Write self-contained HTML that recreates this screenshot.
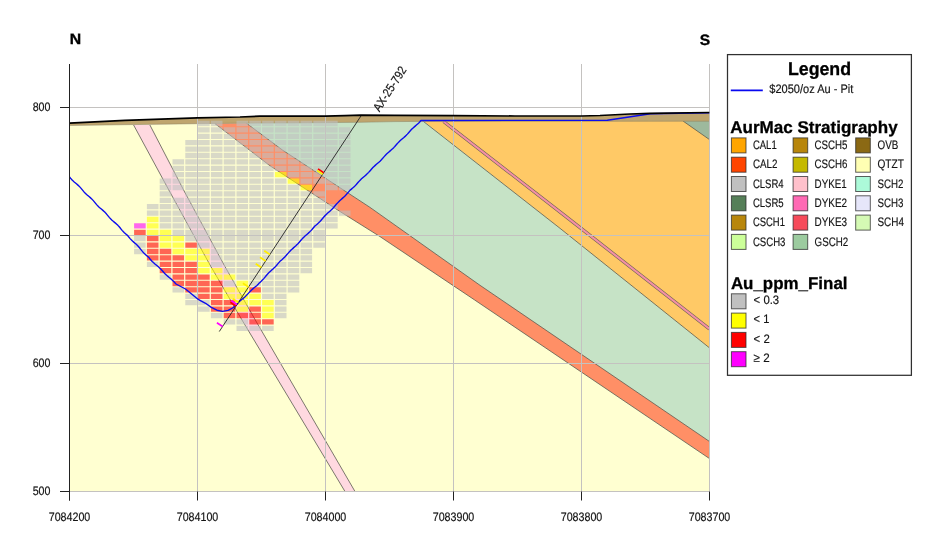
<!DOCTYPE html>
<html><head><meta charset="utf-8"><title>Section</title>
<style>
html,body{margin:0;padding:0;background:#fff;}
svg{display:block;font-family:"Liberation Sans",sans-serif;}
text{text-rendering:geometricPrecision;}
svg{will-change:transform;transform:translateZ(0);}
</style></head><body>
<svg width="950" height="533" viewBox="0 0 950 533">
<rect width="950" height="533" fill="#fff"/>
<defs><clipPath id="pa"><rect x="69.5" y="60" width="640" height="431.5"/></clipPath></defs>
<g clip-path="url(#pa)">
<polygon points="69.50,125.50 125.00,124.70 197.50,123.70 240.00,123.20 325.50,122.60 360.00,122.30 395.00,121.60 420.00,121.40 607.00,121.30 709.50,121.20 709.5,491.5 69.5,491.5" fill="#ffffd1"/>
<polygon points="246.40,123.20 282.40,150.00 370.00,207.40 480.00,285.30 709.50,441.50 709.5,347.9 560,228.3 423.4,121 247.2,121" fill="#c6e3c6"/>
<polygon points="246.40,123.20 282.40,150.00 370.00,207.40 480.00,285.30 709.50,441.50 709.50,458.60 474.70,300.00 380.00,236.60 337.60,210.00 270.00,165.80 214.90,123.60" fill="#ff8f66"/>
<polygon points="423.4,121 709.5,121 709.5,347.9 560,228.3" fill="#ffc966"/>
<polygon points="683,121 709.5,121 709.5,139.6" fill="#9db99d"/>
<polygon points="133.60,125.00 168.80,190.00 210.00,265.00 242.00,320.00 345.00,491.50 355.00,491.50 255.30,320.00 224.10,265.00 183.60,190.00 149.90,125.00" fill="#ffd9e0"/>
<polyline points="246.40,123.20 282.40,150.00 370.00,207.40 480.00,285.30 709.50,441.50" fill="none" stroke="#595950" stroke-width="0.8"/>
<polyline points="214.90,123.60 270.00,165.80 337.60,210.00 380.00,236.60 474.70,300.00 709.50,458.60" fill="none" stroke="#595950" stroke-width="0.8"/>
<polyline points="423.40,121.40 560.00,228.30 709.50,347.90" fill="none" stroke="#595950" stroke-width="0.8"/>
<polyline points="133.60,125.00 168.80,190.00 210.00,265.00 242.00,320.00 345.00,491.50" fill="none" stroke="#595950" stroke-width="0.8"/>
<polyline points="149.90,125.00 183.60,190.00 224.10,265.00 255.30,320.00 355.00,491.50" fill="none" stroke="#595950" stroke-width="0.8"/>
<polyline points="683.00,121.00 709.50,139.60" fill="none" stroke="#595950" stroke-width="0.8"/>
<polyline points="443.6,121.5 564.1,215.1 709.5,329" fill="none" stroke="#6e6458" stroke-width="3.3"/>
<polyline points="443.6,121.5 564.1,215.1 709.5,329" fill="none" stroke="#f590a4" stroke-width="2.1"/>
<polygon points="69.50,123.05 125.00,120.35 197.50,117.95 240.00,117.00 260.00,116.10 325.50,116.10 345.00,115.60 361.00,115.20 395.00,115.30 453.50,115.70 515.00,116.00 581.50,116.00 600.00,115.50 630.00,114.00 650.00,113.40 709.50,112.50 709.50,121.20 607.00,121.30 420.00,121.40 395.00,121.60 360.00,122.30 325.50,122.60 240.00,123.20 197.50,123.70 125.00,124.70 69.50,125.50" fill="#bfa56e"/>
<polyline points="69.50,125.50 125.00,124.70 197.50,123.70 240.00,123.20 325.50,122.60 360.00,122.30 395.00,121.60 420.00,121.40 607.00,121.30 709.50,121.20" fill="none" stroke="#8a8060" stroke-width="0.5"/>
</g>
<g stroke="#c4c2c0" stroke-width="1" fill="none">
<line x1="197.5" y1="64" x2="197.5" y2="491.5"/>
<line x1="325.5" y1="64" x2="325.5" y2="491.5"/>
<line x1="453.5" y1="64" x2="453.5" y2="491.5"/>
<line x1="581.5" y1="64" x2="581.5" y2="491.5"/>
<line x1="709.5" y1="64" x2="709.5" y2="491.5"/>
<line x1="69.5" y1="107.5" x2="709.5" y2="107.5"/>
<line x1="69.5" y1="235.5" x2="709.5" y2="235.5"/>
<line x1="69.5" y1="363.5" x2="709.5" y2="363.5"/>
<line x1="69.5" y1="491.5" x2="709.5" y2="491.5"/>
</g>
<g clip-path="url(#pa)">
<path d="M134.10 236.05h11.60v5.30h-11.60zM134.10 242.45h11.60v5.30h-11.60zM134.10 248.85h11.60v5.30h-11.60zM146.90 204.05h11.60v5.30h-11.60zM146.90 210.45h11.60v5.30h-11.60zM146.90 261.65h11.60v5.30h-11.60zM159.70 178.45h11.60v5.30h-11.60zM159.70 184.85h11.60v5.30h-11.60zM159.70 191.25h11.60v5.30h-11.60zM159.70 197.65h11.60v5.30h-11.60zM159.70 204.05h11.60v5.30h-11.60zM159.70 210.45h11.60v5.30h-11.60zM159.70 216.85h11.60v5.30h-11.60zM159.70 223.25h11.60v5.30h-11.60zM159.70 274.45h11.60v5.30h-11.60zM172.50 159.25h11.60v5.30h-11.60zM172.50 165.65h11.60v5.30h-11.60zM172.50 172.05h11.60v5.30h-11.60zM172.50 178.45h11.60v5.30h-11.60zM172.50 184.85h11.60v5.30h-11.60zM172.50 197.65h11.60v5.30h-11.60zM172.50 204.05h11.60v5.30h-11.60zM172.50 210.45h11.60v5.30h-11.60zM172.50 216.85h11.60v5.30h-11.60zM172.50 223.25h11.60v5.30h-11.60zM172.50 229.65h11.60v5.30h-11.60zM172.50 287.25h11.60v5.30h-11.60zM185.30 140.05h11.60v5.30h-11.60zM185.30 146.45h11.60v5.30h-11.60zM185.30 152.85h11.60v5.30h-11.60zM185.30 159.25h11.60v5.30h-11.60zM185.30 165.65h11.60v5.30h-11.60zM185.30 172.05h11.60v5.30h-11.60zM185.30 178.45h11.60v5.30h-11.60zM185.30 184.85h11.60v5.30h-11.60zM185.30 191.25h11.60v5.30h-11.60zM185.30 197.65h11.60v5.30h-11.60zM185.30 204.05h11.60v5.30h-11.60zM185.30 210.45h11.60v5.30h-11.60zM185.30 216.85h11.60v5.30h-11.60zM185.30 223.25h11.60v5.30h-11.60zM185.30 229.65h11.60v5.30h-11.60zM185.30 236.05h11.60v5.30h-11.60zM185.30 293.65h11.60v5.30h-11.60zM185.30 300.05h11.60v5.30h-11.60zM198.10 120.85h11.60v5.30h-11.60zM198.10 127.25h11.60v5.30h-11.60zM198.10 133.65h11.60v5.30h-11.60zM198.10 140.05h11.60v5.30h-11.60zM198.10 146.45h11.60v5.30h-11.60zM198.10 152.85h11.60v5.30h-11.60zM198.10 159.25h11.60v5.30h-11.60zM198.10 165.65h11.60v5.30h-11.60zM198.10 172.05h11.60v5.30h-11.60zM198.10 178.45h11.60v5.30h-11.60zM198.10 184.85h11.60v5.30h-11.60zM198.10 191.25h11.60v5.30h-11.60zM198.10 197.65h11.60v5.30h-11.60zM198.10 204.05h11.60v5.30h-11.60zM198.10 210.45h11.60v5.30h-11.60zM198.10 216.85h11.60v5.30h-11.60zM198.10 223.25h11.60v5.30h-11.60zM198.10 229.65h11.60v5.30h-11.60zM198.10 236.05h11.60v5.30h-11.60zM198.10 242.45h11.60v5.30h-11.60zM198.10 300.05h11.60v5.30h-11.60zM198.10 306.45h11.60v5.30h-11.60zM210.90 120.85h11.60v5.30h-11.60zM210.90 127.25h11.60v5.30h-11.60zM210.90 133.65h11.60v5.30h-11.60zM210.90 140.05h11.60v5.30h-11.60zM210.90 146.45h11.60v5.30h-11.60zM210.90 152.85h11.60v5.30h-11.60zM210.90 159.25h11.60v5.30h-11.60zM210.90 165.65h11.60v5.30h-11.60zM210.90 172.05h11.60v5.30h-11.60zM210.90 178.45h11.60v5.30h-11.60zM210.90 184.85h11.60v5.30h-11.60zM210.90 191.25h11.60v5.30h-11.60zM210.90 197.65h11.60v5.30h-11.60zM210.90 204.05h11.60v5.30h-11.60zM210.90 210.45h11.60v5.30h-11.60zM210.90 216.85h11.60v5.30h-11.60zM210.90 223.25h11.60v5.30h-11.60zM210.90 229.65h11.60v5.30h-11.60zM210.90 236.05h11.60v5.30h-11.60zM210.90 242.45h11.60v5.30h-11.60zM210.90 248.85h11.60v5.30h-11.60zM210.90 255.25h11.60v5.30h-11.60zM210.90 261.65h11.60v5.30h-11.60zM210.90 312.85h11.60v5.30h-11.60zM223.70 127.25h11.60v5.30h-11.60zM223.70 133.65h11.60v5.30h-11.60zM223.70 140.05h11.60v5.30h-11.60zM223.70 146.45h11.60v5.30h-11.60zM223.70 152.85h11.60v5.30h-11.60zM223.70 159.25h11.60v5.30h-11.60zM223.70 165.65h11.60v5.30h-11.60zM223.70 172.05h11.60v5.30h-11.60zM223.70 178.45h11.60v5.30h-11.60zM223.70 184.85h11.60v5.30h-11.60zM223.70 191.25h11.60v5.30h-11.60zM223.70 197.65h11.60v5.30h-11.60zM223.70 204.05h11.60v5.30h-11.60zM223.70 210.45h11.60v5.30h-11.60zM223.70 216.85h11.60v5.30h-11.60zM223.70 223.25h11.60v5.30h-11.60zM223.70 229.65h11.60v5.30h-11.60zM223.70 236.05h11.60v5.30h-11.60zM223.70 242.45h11.60v5.30h-11.60zM223.70 248.85h11.60v5.30h-11.60zM223.70 255.25h11.60v5.30h-11.60zM223.70 261.65h11.60v5.30h-11.60zM223.70 268.05h11.60v5.30h-11.60zM223.70 280.85h11.60v5.30h-11.60zM223.70 319.25h11.60v5.30h-11.60zM236.50 120.85h11.60v5.30h-11.60zM236.50 127.25h11.60v5.30h-11.60zM236.50 133.65h11.60v5.30h-11.60zM236.50 140.05h11.60v5.30h-11.60zM236.50 146.45h11.60v5.30h-11.60zM236.50 152.85h11.60v5.30h-11.60zM236.50 159.25h11.60v5.30h-11.60zM236.50 165.65h11.60v5.30h-11.60zM236.50 172.05h11.60v5.30h-11.60zM236.50 178.45h11.60v5.30h-11.60zM236.50 184.85h11.60v5.30h-11.60zM236.50 191.25h11.60v5.30h-11.60zM236.50 197.65h11.60v5.30h-11.60zM236.50 204.05h11.60v5.30h-11.60zM236.50 210.45h11.60v5.30h-11.60zM236.50 216.85h11.60v5.30h-11.60zM236.50 223.25h11.60v5.30h-11.60zM236.50 229.65h11.60v5.30h-11.60zM236.50 236.05h11.60v5.30h-11.60zM236.50 242.45h11.60v5.30h-11.60zM236.50 248.85h11.60v5.30h-11.60zM236.50 255.25h11.60v5.30h-11.60zM236.50 261.65h11.60v5.30h-11.60zM236.50 268.05h11.60v5.30h-11.60zM236.50 274.45h11.60v5.30h-11.60zM236.50 319.25h11.60v5.30h-11.60zM236.50 325.65h11.60v5.30h-11.60zM249.30 120.85h11.60v5.30h-11.60zM249.30 127.25h11.60v5.30h-11.60zM249.30 133.65h11.60v5.30h-11.60zM249.30 140.05h11.60v5.30h-11.60zM249.30 146.45h11.60v5.30h-11.60zM249.30 152.85h11.60v5.30h-11.60zM249.30 159.25h11.60v5.30h-11.60zM249.30 165.65h11.60v5.30h-11.60zM249.30 172.05h11.60v5.30h-11.60zM249.30 178.45h11.60v5.30h-11.60zM249.30 184.85h11.60v5.30h-11.60zM249.30 191.25h11.60v5.30h-11.60zM249.30 197.65h11.60v5.30h-11.60zM249.30 204.05h11.60v5.30h-11.60zM249.30 210.45h11.60v5.30h-11.60zM249.30 216.85h11.60v5.30h-11.60zM249.30 223.25h11.60v5.30h-11.60zM249.30 229.65h11.60v5.30h-11.60zM249.30 236.05h11.60v5.30h-11.60zM249.30 242.45h11.60v5.30h-11.60zM249.30 248.85h11.60v5.30h-11.60zM249.30 255.25h11.60v5.30h-11.60zM249.30 261.65h11.60v5.30h-11.60zM249.30 268.05h11.60v5.30h-11.60zM249.30 274.45h11.60v5.30h-11.60zM249.30 280.85h11.60v5.30h-11.60zM249.30 325.65h11.60v5.30h-11.60zM262.10 120.85h11.60v5.30h-11.60zM262.10 127.25h11.60v5.30h-11.60zM262.10 133.65h11.60v5.30h-11.60zM262.10 140.05h11.60v5.30h-11.60zM262.10 146.45h11.60v5.30h-11.60zM262.10 152.85h11.60v5.30h-11.60zM262.10 159.25h11.60v5.30h-11.60zM262.10 165.65h11.60v5.30h-11.60zM262.10 172.05h11.60v5.30h-11.60zM262.10 178.45h11.60v5.30h-11.60zM262.10 184.85h11.60v5.30h-11.60zM262.10 191.25h11.60v5.30h-11.60zM262.10 197.65h11.60v5.30h-11.60zM262.10 204.05h11.60v5.30h-11.60zM262.10 210.45h11.60v5.30h-11.60zM262.10 216.85h11.60v5.30h-11.60zM262.10 223.25h11.60v5.30h-11.60zM262.10 229.65h11.60v5.30h-11.60zM262.10 236.05h11.60v5.30h-11.60zM262.10 242.45h11.60v5.30h-11.60zM262.10 248.85h11.60v5.30h-11.60zM262.10 255.25h11.60v5.30h-11.60zM262.10 261.65h11.60v5.30h-11.60zM262.10 268.05h11.60v5.30h-11.60zM262.10 274.45h11.60v5.30h-11.60zM262.10 280.85h11.60v5.30h-11.60zM262.10 287.25h11.60v5.30h-11.60zM262.10 293.65h11.60v5.30h-11.60zM262.10 325.65h11.60v5.30h-11.60zM274.90 120.85h11.60v5.30h-11.60zM274.90 127.25h11.60v5.30h-11.60zM274.90 133.65h11.60v5.30h-11.60zM274.90 140.05h11.60v5.30h-11.60zM274.90 146.45h11.60v5.30h-11.60zM274.90 152.85h11.60v5.30h-11.60zM274.90 159.25h11.60v5.30h-11.60zM274.90 165.65h11.60v5.30h-11.60zM274.90 178.45h11.60v5.30h-11.60zM274.90 184.85h11.60v5.30h-11.60zM274.90 191.25h11.60v5.30h-11.60zM274.90 197.65h11.60v5.30h-11.60zM274.90 204.05h11.60v5.30h-11.60zM274.90 210.45h11.60v5.30h-11.60zM274.90 216.85h11.60v5.30h-11.60zM274.90 223.25h11.60v5.30h-11.60zM274.90 229.65h11.60v5.30h-11.60zM274.90 236.05h11.60v5.30h-11.60zM274.90 242.45h11.60v5.30h-11.60zM274.90 248.85h11.60v5.30h-11.60zM274.90 255.25h11.60v5.30h-11.60zM274.90 261.65h11.60v5.30h-11.60zM274.90 268.05h11.60v5.30h-11.60zM274.90 274.45h11.60v5.30h-11.60zM274.90 280.85h11.60v5.30h-11.60zM274.90 287.25h11.60v5.30h-11.60zM274.90 293.65h11.60v5.30h-11.60zM274.90 300.05h11.60v5.30h-11.60zM274.90 306.45h11.60v5.30h-11.60zM274.90 312.85h11.60v5.30h-11.60zM287.70 120.85h11.60v5.30h-11.60zM287.70 127.25h11.60v5.30h-11.60zM287.70 133.65h11.60v5.30h-11.60zM287.70 140.05h11.60v5.30h-11.60zM287.70 146.45h11.60v5.30h-11.60zM287.70 152.85h11.60v5.30h-11.60zM287.70 159.25h11.60v5.30h-11.60zM287.70 165.65h11.60v5.30h-11.60zM287.70 172.05h11.60v5.30h-11.60zM287.70 184.85h11.60v5.30h-11.60zM287.70 191.25h11.60v5.30h-11.60zM287.70 197.65h11.60v5.30h-11.60zM287.70 204.05h11.60v5.30h-11.60zM287.70 210.45h11.60v5.30h-11.60zM287.70 216.85h11.60v5.30h-11.60zM287.70 223.25h11.60v5.30h-11.60zM287.70 229.65h11.60v5.30h-11.60zM287.70 236.05h11.60v5.30h-11.60zM287.70 242.45h11.60v5.30h-11.60zM287.70 248.85h11.60v5.30h-11.60zM287.70 255.25h11.60v5.30h-11.60zM287.70 261.65h11.60v5.30h-11.60zM287.70 268.05h11.60v5.30h-11.60zM287.70 274.45h11.60v5.30h-11.60zM287.70 280.85h11.60v5.30h-11.60zM287.70 287.25h11.60v5.30h-11.60zM300.50 120.85h11.60v5.30h-11.60zM300.50 127.25h11.60v5.30h-11.60zM300.50 133.65h11.60v5.30h-11.60zM300.50 140.05h11.60v5.30h-11.60zM300.50 146.45h11.60v5.30h-11.60zM300.50 152.85h11.60v5.30h-11.60zM300.50 159.25h11.60v5.30h-11.60zM300.50 165.65h11.60v5.30h-11.60zM300.50 172.05h11.60v5.30h-11.60zM300.50 178.45h11.60v5.30h-11.60zM300.50 191.25h11.60v5.30h-11.60zM300.50 197.65h11.60v5.30h-11.60zM300.50 204.05h11.60v5.30h-11.60zM300.50 210.45h11.60v5.30h-11.60zM300.50 216.85h11.60v5.30h-11.60zM300.50 223.25h11.60v5.30h-11.60zM300.50 229.65h11.60v5.30h-11.60zM300.50 236.05h11.60v5.30h-11.60zM300.50 242.45h11.60v5.30h-11.60zM300.50 248.85h11.60v5.30h-11.60zM300.50 255.25h11.60v5.30h-11.60zM300.50 261.65h11.60v5.30h-11.60zM300.50 268.05h11.60v5.30h-11.60zM313.30 120.85h11.60v5.30h-11.60zM313.30 127.25h11.60v5.30h-11.60zM313.30 133.65h11.60v5.30h-11.60zM313.30 140.05h11.60v5.30h-11.60zM313.30 146.45h11.60v5.30h-11.60zM313.30 152.85h11.60v5.30h-11.60zM313.30 159.25h11.60v5.30h-11.60zM313.30 165.65h11.60v5.30h-11.60zM313.30 172.05h11.60v5.30h-11.60zM313.30 178.45h11.60v5.30h-11.60zM313.30 191.25h11.60v5.30h-11.60zM313.30 197.65h11.60v5.30h-11.60zM313.30 204.05h11.60v5.30h-11.60zM313.30 210.45h11.60v5.30h-11.60zM313.30 216.85h11.60v5.30h-11.60zM313.30 223.25h11.60v5.30h-11.60zM313.30 229.65h11.60v5.30h-11.60zM313.30 236.05h11.60v5.30h-11.60zM313.30 242.45h11.60v5.30h-11.60zM326.10 120.85h11.60v5.30h-11.60zM326.10 127.25h11.60v5.30h-11.60zM326.10 133.65h11.60v5.30h-11.60zM326.10 140.05h11.60v5.30h-11.60zM326.10 146.45h11.60v5.30h-11.60zM326.10 152.85h11.60v5.30h-11.60zM326.10 159.25h11.60v5.30h-11.60zM326.10 165.65h11.60v5.30h-11.60zM326.10 172.05h11.60v5.30h-11.60zM326.10 178.45h11.60v5.30h-11.60zM326.10 184.85h11.60v5.30h-11.60zM326.10 204.05h11.60v5.30h-11.60zM326.10 210.45h11.60v5.30h-11.60zM326.10 216.85h11.60v5.30h-11.60zM326.10 223.25h11.60v5.30h-11.60zM338.90 127.25h11.60v5.30h-11.60zM338.90 133.65h11.60v5.30h-11.60zM338.90 140.05h11.60v5.30h-11.60zM338.90 146.45h11.60v5.30h-11.60zM338.90 152.85h11.60v5.30h-11.60zM338.90 159.25h11.60v5.30h-11.60zM338.90 165.65h11.60v5.30h-11.60zM338.90 172.05h11.60v5.30h-11.60zM338.90 178.45h11.60v5.30h-11.60zM338.90 184.85h11.60v5.30h-11.60zM338.90 210.45h11.60v5.30h-11.60z" fill="#c0c0c0" fill-opacity="0.6"/>
<path d="M146.90 216.85h11.60v5.30h-11.60zM146.90 223.25h11.60v5.30h-11.60zM146.90 229.65h11.60v5.30h-11.60zM159.70 229.65h11.60v5.30h-11.60zM159.70 236.05h11.60v5.30h-11.60zM159.70 242.45h11.60v5.30h-11.60zM172.50 236.05h11.60v5.30h-11.60zM172.50 242.45h11.60v5.30h-11.60zM172.50 248.85h11.60v5.30h-11.60zM185.30 248.85h11.60v5.30h-11.60zM185.30 255.25h11.60v5.30h-11.60zM198.10 248.85h11.60v5.30h-11.60zM198.10 255.25h11.60v5.30h-11.60zM198.10 261.65h11.60v5.30h-11.60zM198.10 268.05h11.60v5.30h-11.60zM210.90 268.05h11.60v5.30h-11.60zM210.90 274.45h11.60v5.30h-11.60zM223.70 274.45h11.60v5.30h-11.60zM223.70 287.25h11.60v5.30h-11.60zM223.70 293.65h11.60v5.30h-11.60zM236.50 280.85h11.60v5.30h-11.60zM236.50 287.25h11.60v5.30h-11.60zM236.50 293.65h11.60v5.30h-11.60zM236.50 300.05h11.60v5.30h-11.60zM236.50 306.45h11.60v5.30h-11.60zM249.30 293.65h11.60v5.30h-11.60zM249.30 300.05h11.60v5.30h-11.60zM262.10 300.05h11.60v5.30h-11.60zM262.10 306.45h11.60v5.30h-11.60zM262.10 312.85h11.60v5.30h-11.60zM274.90 172.05h11.60v5.30h-11.60zM287.70 178.45h11.60v5.30h-11.60zM300.50 184.85h11.60v5.30h-11.60z" fill="#ffff00" fill-opacity="0.6"/>
<path d="M134.10 229.65h11.60v5.30h-11.60zM146.90 236.05h11.60v5.30h-11.60zM146.90 242.45h11.60v5.30h-11.60zM146.90 248.85h11.60v5.30h-11.60zM146.90 255.25h11.60v5.30h-11.60zM159.70 248.85h11.60v5.30h-11.60zM159.70 255.25h11.60v5.30h-11.60zM159.70 261.65h11.60v5.30h-11.60zM159.70 268.05h11.60v5.30h-11.60zM172.50 255.25h11.60v5.30h-11.60zM172.50 261.65h11.60v5.30h-11.60zM172.50 268.05h11.60v5.30h-11.60zM172.50 274.45h11.60v5.30h-11.60zM172.50 280.85h11.60v5.30h-11.60zM185.30 242.45h11.60v5.30h-11.60zM185.30 261.65h11.60v5.30h-11.60zM185.30 268.05h11.60v5.30h-11.60zM185.30 274.45h11.60v5.30h-11.60zM185.30 280.85h11.60v5.30h-11.60zM185.30 287.25h11.60v5.30h-11.60zM198.10 274.45h11.60v5.30h-11.60zM198.10 280.85h11.60v5.30h-11.60zM198.10 287.25h11.60v5.30h-11.60zM198.10 293.65h11.60v5.30h-11.60zM210.90 280.85h11.60v5.30h-11.60zM210.90 287.25h11.60v5.30h-11.60zM210.90 293.65h11.60v5.30h-11.60zM210.90 300.05h11.60v5.30h-11.60zM210.90 306.45h11.60v5.30h-11.60zM223.70 300.05h11.60v5.30h-11.60zM223.70 306.45h11.60v5.30h-11.60zM223.70 312.85h11.60v5.30h-11.60zM236.50 312.85h11.60v5.30h-11.60zM249.30 287.25h11.60v5.30h-11.60zM249.30 306.45h11.60v5.30h-11.60zM249.30 312.85h11.60v5.30h-11.60zM249.30 319.25h11.60v5.30h-11.60zM262.10 319.25h11.60v5.30h-11.60z" fill="#ff0000" fill-opacity="0.6"/>
<path d="M134.10 223.25h11.60v5.30h-11.60z" fill="#ff00ff" fill-opacity="0.6"/>

<polyline points="69.50,176.90 70.53,178.17 71.60,179.41 72.73,180.59 73.92,181.70 75.17,182.76 76.43,183.80 77.68,184.86 78.89,185.96 80.02,187.13 81.10,188.36 82.14,189.63 83.17,190.90 84.23,192.15 85.35,193.33 86.53,194.46 87.77,195.53 89.03,196.57 90.29,197.62 91.50,198.72 92.65,199.87 93.73,201.09 94.77,202.36 95.80,203.63 96.86,204.88 97.96,206.08 99.14,207.21 100.37,208.29 101.63,209.33 102.89,210.38 104.11,211.47 105.27,212.62 106.36,213.83 107.41,215.09 108.44,216.36 109.49,217.62 110.58,218.83 111.75,219.97 112.97,221.05 114.23,222.10 115.49,223.15 116.72,224.22 117.89,225.36 118.99,226.56 120.05,227.81 121.07,229.09 122.12,230.35 123.20,231.57 124.36,232.72 125.57,233.82 126.83,234.87 128.00,236.00 129.04,237.32 130.12,238.61 131.26,239.84 132.47,241.00 133.73,242.11 135.00,243.21 136.27,244.32 137.48,245.48 138.62,246.70 139.70,247.99 140.74,249.31 141.78,250.63 142.86,251.92 143.99,253.15 145.20,254.32 146.46,255.44 147.74,256.53 149.00,257.64 150.00,259.00 151.10,260.22 152.22,261.42 153.40,262.57 154.62,263.66 155.87,264.72 157.14,265.77 158.39,266.83 159.61,267.93 160.77,269.09 161.89,270.29 162.99,271.52 164.09,272.74 165.22,273.92 166.40,275.06 167.63,276.15 168.89,277.20 170.16,278.25 171.40,279.32 172.61,280.43 173.76,281.60 174.88,282.80 176.00,284.00 185.50,289.00 198.00,299.20 200.00,300.30 205.60,303.30 211.30,307.40 216.90,310.20 222.50,311.40 228.10,310.40 232.60,308.00 236.00,305.20 239.40,301.60 242.00,299.30 243.30,298.25 244.57,297.16 245.79,296.03 246.96,294.84 248.10,293.61 249.22,292.38 250.37,291.16 251.56,290.00 252.81,288.89 254.10,287.82 255.40,286.77 256.69,285.71 257.94,284.60 259.00,283.30 260.24,282.18 261.46,281.04 262.63,279.85 263.75,278.62 264.84,277.35 265.91,276.06 266.99,274.79 268.11,273.55 269.28,272.36 270.49,271.21 271.73,270.10 272.98,268.98 274.19,267.84 275.37,266.65 276.49,265.42 277.58,264.15 278.65,262.86 279.73,261.59 281.00,260.50 282.22,259.44 283.41,258.35 284.56,257.22 285.67,256.04 286.73,254.83 287.78,253.60 288.84,252.38 289.93,251.19 291.07,250.05 292.25,248.95 293.47,247.88 294.69,246.82 295.89,245.74 297.05,244.62 298.17,243.46 299.24,242.25 300.30,241.02 301.35,239.80 302.43,238.60 303.56,237.44 304.73,236.33 305.93,235.26 307.16,234.20 308.36,233.13 309.54,232.02 310.67,230.87 311.75,229.68 312.81,228.45 313.86,227.22 314.93,226.01 316.20,225.00 317.42,223.92 318.61,222.82 319.76,221.68 320.87,220.49 321.93,219.26 322.98,218.02 324.04,216.79 325.13,215.59 326.27,214.43 327.45,213.32 328.67,212.24 329.89,211.16 331.09,210.07 332.25,208.94 333.37,207.76 334.44,206.55 335.50,205.31 336.55,204.07 337.63,202.86 338.75,201.69 339.93,200.56 341.13,199.48 342.36,198.40 343.57,197.32 344.74,196.20 345.87,195.03 346.95,193.83 348.01,192.59 349.06,191.35 350.13,190.13 351.40,189.10 352.62,188.06 353.82,186.99 354.97,185.88 356.08,184.72 357.15,183.53 358.20,182.32 359.27,181.12 360.36,179.95 361.51,178.83 362.70,177.75 363.91,176.71 365.14,175.67 366.34,174.61 367.51,173.51 368.62,172.37 369.70,171.18 370.76,169.97 371.82,168.76 372.90,167.59 374.04,166.45 375.21,165.37 376.43,164.32 377.65,163.28 378.86,162.23 380.04,161.14 381.17,160.00 382.25,158.83 383.31,157.62 384.37,156.41 385.44,155.22 386.57,154.08 387.73,152.99 388.94,151.93 390.16,150.89 391.38,149.84 392.56,148.76 393.70,147.64 394.80,146.47 395.86,145.27 396.92,144.06 397.99,142.87 399.10,141.71 400.26,140.60 401.45,139.54 402.68,138.50 403.90,137.46 405.09,136.39 406.24,135.27 407.35,134.11 408.41,132.92 409.47,131.71 410.53,130.51 411.63,129.34 412.78,128.23 413.97,127.15 415.19,126.11 416.41,125.07 417.61,124.01 418.78,122.91 419.89,121.76 420.90,120.50 607.30,120.20 650.50,113.80 709.50,112.90" fill="none" stroke="#0c0cee" stroke-width="1.4" stroke-linejoin="round"/>
<line x1="361.2" y1="115.6" x2="219.3" y2="331.5" stroke="#222" stroke-width="0.9"/>
<line x1="323.7" y1="172.7" x2="318.0" y2="168.9" stroke="#ff0000" stroke-width="1.7"/>
<line x1="322.7" y1="174.3" x2="317.0" y2="170.5" stroke="#ffee00" stroke-width="1.7"/>
<line x1="269.9" y1="254.5" x2="264.2" y2="250.8" stroke="#ffee00" stroke-width="1.7"/>
<line x1="265.6" y1="261.0" x2="260.0" y2="257.3" stroke="#ffee00" stroke-width="1.7"/>
<line x1="261.4" y1="267.5" x2="255.7" y2="263.8" stroke="#ffee00" stroke-width="1.7"/>
<line x1="248.5" y1="287.0" x2="242.9" y2="283.3" stroke="#ffee00" stroke-width="1.7"/>
<line x1="238.4" y1="302.5" x2="232.7" y2="298.7" stroke="#ffee00" stroke-width="1.7"/>
<line x1="237.0" y1="304.6" x2="231.3" y2="300.8" stroke="#ff00ff" stroke-width="1.7"/>
<line x1="236.0" y1="306.1" x2="230.3" y2="302.3" stroke="#ff0000" stroke-width="1.7"/>
<line x1="222.6" y1="326.5" x2="216.9" y2="322.8" stroke="#ff00ff" stroke-width="1.7"/>
<polyline points="69.50,123.05 125.00,120.35 197.50,117.95 240.00,117.00 260.00,116.10 325.50,116.10 345.00,115.60 361.00,115.20 395.00,115.30 453.50,115.70 515.00,116.00 581.50,116.00 600.00,115.50 630.00,114.00 650.00,113.40 709.50,112.50" fill="none" stroke="#000" stroke-width="1.7"/>
</g>
<g stroke="#222" stroke-width="1" fill="none">
<line x1="69.5" y1="64" x2="69.5" y2="500.5"/>
<line x1="60" y1="107.5" x2="69.5" y2="107.5"/><line x1="60" y1="235.5" x2="69.5" y2="235.5"/><line x1="60" y1="363.5" x2="69.5" y2="363.5"/><line x1="60" y1="491.5" x2="69.5" y2="491.5"/>
<line x1="69.5" y1="491.5" x2="69.5" y2="500.5"/><line x1="197.5" y1="491.5" x2="197.5" y2="500.5"/><line x1="325.5" y1="491.5" x2="325.5" y2="500.5"/><line x1="453.5" y1="491.5" x2="453.5" y2="500.5"/><line x1="581.5" y1="491.5" x2="581.5" y2="500.5"/><line x1="709.5" y1="491.5" x2="709.5" y2="500.5"/>
</g>
<g font-size="12.3" fill="#141414" stroke="#141414" stroke-width="0.18">
<text x="50.5" y="111.3" text-anchor="end" textLength="17.8" lengthAdjust="spacingAndGlyphs">800</text><text x="50.5" y="239.3" text-anchor="end" textLength="17.8" lengthAdjust="spacingAndGlyphs">700</text><text x="50.5" y="367.3" text-anchor="end" textLength="17.8" lengthAdjust="spacingAndGlyphs">600</text><text x="50.5" y="495.3" text-anchor="end" textLength="17.8" lengthAdjust="spacingAndGlyphs">500</text>
<text x="69.5" y="521.2" text-anchor="middle" textLength="41.6" lengthAdjust="spacingAndGlyphs">7084200</text><text x="197.5" y="521.2" text-anchor="middle" textLength="41.6" lengthAdjust="spacingAndGlyphs">7084100</text><text x="325.5" y="521.2" text-anchor="middle" textLength="41.6" lengthAdjust="spacingAndGlyphs">7084000</text><text x="453.5" y="521.2" text-anchor="middle" textLength="41.6" lengthAdjust="spacingAndGlyphs">7083900</text><text x="581.5" y="521.2" text-anchor="middle" textLength="41.6" lengthAdjust="spacingAndGlyphs">7083800</text><text x="709.5" y="521.2" text-anchor="middle" textLength="41.6" lengthAdjust="spacingAndGlyphs">7083700</text>
<text transform="translate(379.4,112.4) rotate(-57)" textLength="50.8" lengthAdjust="spacingAndGlyphs">AX-25-792</text>
</g>
<g font-weight="bold" font-size="15" fill="#000" stroke="#000" stroke-width="0.35">
<text x="69.8" y="44.2" textLength="11.4" lengthAdjust="spacingAndGlyphs">N</text>
<text x="699.8" y="44.7" textLength="10.4" lengthAdjust="spacingAndGlyphs">S</text>
</g>
<rect x="727.5" y="54.6" width="183.9" height="320.7" fill="#fff" stroke="#303030" stroke-width="1.25"/>
<g font-weight="bold" fill="#000" stroke="#000" stroke-width="0.3">
<text x="819.5" y="75" font-size="18.4" text-anchor="middle" textLength="63.2" lengthAdjust="spacingAndGlyphs">Legend</text>
<text x="730.3" y="132.9" font-size="17" textLength="167.3" lengthAdjust="spacingAndGlyphs">AurMac Stratigraphy</text>
<text x="730.9" y="288.6" font-size="17" textLength="116.6" lengthAdjust="spacingAndGlyphs">Au_ppm_Final</text>
</g>
<line x1="730.8" y1="90.4" x2="762.8" y2="90.4" stroke="#0808f0" stroke-width="1.6"/>
<g font-size="12.3" fill="#141414" stroke="#141414" stroke-width="0.18">
<text x="769.3" y="93.1" textLength="84" lengthAdjust="spacingAndGlyphs">$2050/oz Au - Pit</text>
<rect x="731.4" y="137.9" width="14.6" height="15" fill="#ffa500" stroke="#2a2a2a" stroke-opacity="0.75" stroke-width="1"/>
<text x="752.9" y="149.0" textLength="23.8" lengthAdjust="spacingAndGlyphs">CAL1</text>
<rect x="793.1" y="137.9" width="14.6" height="15" fill="#b8860b" stroke="#2a2a2a" stroke-opacity="0.75" stroke-width="1"/>
<text x="814.6" y="149.0" textLength="32.9" lengthAdjust="spacingAndGlyphs">CSCH5</text>
<rect x="855.7" y="137.9" width="14.6" height="15" fill="#8b6914" stroke="#2a2a2a" stroke-opacity="0.75" stroke-width="1"/>
<text x="877.5" y="149.0" textLength="20.8" lengthAdjust="spacingAndGlyphs">OVB</text>
<rect x="731.4" y="157.2" width="14.6" height="15" fill="#ff4500" stroke="#2a2a2a" stroke-opacity="0.75" stroke-width="1"/>
<text x="752.9" y="168.3" textLength="24.5" lengthAdjust="spacingAndGlyphs">CAL2</text>
<rect x="793.1" y="157.2" width="14.6" height="15" fill="#c5b900" stroke="#2a2a2a" stroke-opacity="0.75" stroke-width="1"/>
<text x="814.6" y="168.3" textLength="32.9" lengthAdjust="spacingAndGlyphs">CSCH6</text>
<rect x="855.7" y="157.2" width="14.6" height="15" fill="#ffffb3" stroke="#2a2a2a" stroke-opacity="0.75" stroke-width="1"/>
<text x="877.5" y="168.3" textLength="26.400000000000002" lengthAdjust="spacingAndGlyphs">QTZT</text>
<rect x="731.4" y="176.5" width="14.6" height="15" fill="#c0c0c0" stroke="#2a2a2a" stroke-opacity="0.75" stroke-width="1"/>
<text x="752.9" y="187.6" textLength="30.8" lengthAdjust="spacingAndGlyphs">CLSR4</text>
<rect x="793.1" y="176.5" width="14.6" height="15" fill="#ffc0cb" stroke="#2a2a2a" stroke-opacity="0.75" stroke-width="1"/>
<text x="814.6" y="187.6" textLength="32.0" lengthAdjust="spacingAndGlyphs">DYKE1</text>
<rect x="855.7" y="176.5" width="14.6" height="15" fill="#acfad9" stroke="#2a2a2a" stroke-opacity="0.75" stroke-width="1"/>
<text x="877.5" y="187.6" textLength="25.900000000000002" lengthAdjust="spacingAndGlyphs">SCH2</text>
<rect x="731.4" y="195.8" width="14.6" height="15" fill="#557f58" stroke="#2a2a2a" stroke-opacity="0.75" stroke-width="1"/>
<text x="752.9" y="206.9" textLength="30.8" lengthAdjust="spacingAndGlyphs">CLSR5</text>
<rect x="793.1" y="195.8" width="14.6" height="15" fill="#ff69b4" stroke="#2a2a2a" stroke-opacity="0.75" stroke-width="1"/>
<text x="814.6" y="206.9" textLength="32.5" lengthAdjust="spacingAndGlyphs">DYKE2</text>
<rect x="855.7" y="195.8" width="14.6" height="15" fill="#e6e6fa" stroke="#2a2a2a" stroke-opacity="0.75" stroke-width="1"/>
<text x="877.5" y="206.9" textLength="25.900000000000002" lengthAdjust="spacingAndGlyphs">SCH3</text>
<rect x="731.4" y="215.1" width="14.6" height="15" fill="#b8860b" stroke="#2a2a2a" stroke-opacity="0.75" stroke-width="1"/>
<text x="752.9" y="226.2" textLength="32.0" lengthAdjust="spacingAndGlyphs">CSCH1</text>
<rect x="793.1" y="215.1" width="14.6" height="15" fill="#f64a5a" stroke="#2a2a2a" stroke-opacity="0.75" stroke-width="1"/>
<text x="814.6" y="226.2" textLength="32.5" lengthAdjust="spacingAndGlyphs">DYKE3</text>
<rect x="855.7" y="215.1" width="14.6" height="15" fill="#d5fab4" stroke="#2a2a2a" stroke-opacity="0.75" stroke-width="1"/>
<text x="877.5" y="226.2" textLength="26.400000000000002" lengthAdjust="spacingAndGlyphs">SCH4</text>
<rect x="731.4" y="234.4" width="14.6" height="15" fill="#ccff99" stroke="#2a2a2a" stroke-opacity="0.75" stroke-width="1"/>
<text x="752.9" y="245.5" textLength="32.5" lengthAdjust="spacingAndGlyphs">CSCH3</text>
<rect x="793.1" y="234.4" width="14.6" height="15" fill="#9ccb9f" stroke="#2a2a2a" stroke-opacity="0.75" stroke-width="1"/>
<text x="814.6" y="245.5" textLength="33.599999999999994" lengthAdjust="spacingAndGlyphs">GSCH2</text>
<rect x="731.4" y="293.8" width="14.6" height="15" fill="#c0c0c0" stroke="#2a2a2a" stroke-opacity="0.75" stroke-width="1"/>
<text x="753.6" y="304.1" textLength="25.6" lengthAdjust="spacingAndGlyphs">&lt; 0.3</text>
<rect x="731.4" y="313.1" width="14.6" height="15" fill="#ffff00" stroke="#2a2a2a" stroke-opacity="0.75" stroke-width="1"/>
<text x="753.6" y="323.4" textLength="15.7" lengthAdjust="spacingAndGlyphs">&lt; 1</text>
<rect x="731.4" y="332.4" width="14.6" height="15" fill="#ff0000" stroke="#2a2a2a" stroke-opacity="0.75" stroke-width="1"/>
<text x="753.6" y="342.7" textLength="16.1" lengthAdjust="spacingAndGlyphs">&lt; 2</text>
<rect x="731.4" y="351.7" width="14.6" height="15" fill="#ff00ff" stroke="#2a2a2a" stroke-opacity="0.75" stroke-width="1"/>
<text x="753.6" y="362.0" textLength="16.1" lengthAdjust="spacingAndGlyphs">&#8805; 2</text>
</g>
</svg>
</body></html>
